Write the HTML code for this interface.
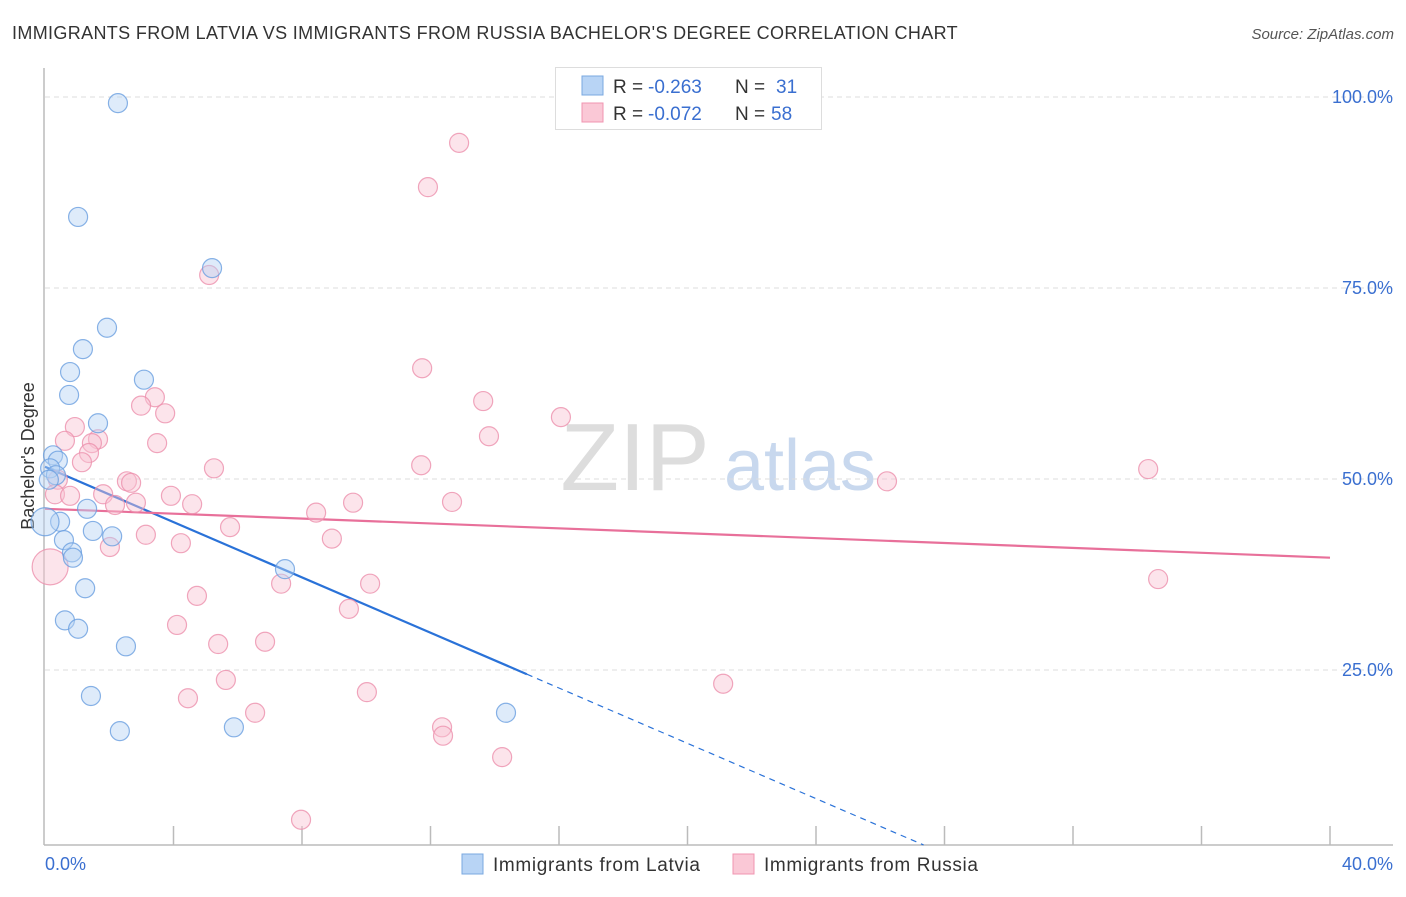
<!DOCTYPE html>
<html><head><meta charset="utf-8"><style>
body{margin:0;background:#fff;font-family:"Liberation Sans",sans-serif;}
svg text{font-family:"Liberation Sans",sans-serif;}
</style></head><body>
<svg id="chart" width="1406" height="892">
<text x="12" y="39" font-size="18" fill="#333" letter-spacing="0.35">IMMIGRANTS FROM LATVIA VS IMMIGRANTS FROM RUSSIA BACHELOR'S DEGREE CORRELATION CHART</text>
<text x="1394" y="39" font-size="15" fill="#555" font-style="italic" text-anchor="end">Source: ZipAtlas.com</text>
<text x="0" y="0" transform="translate(34,456) rotate(-90)" font-size="18" fill="#333" text-anchor="middle">Bachelor's Degree</text>
<g><text x="635" y="490" font-size="96" fill="#ddd" font-family="Liberation Serif" text-anchor="middle">ZIP</text><text x="800" y="490" font-size="72" fill="#c8d8ee" text-anchor="middle">atlas</text></g>
<g id="grid"></g><g id="axes"></g><g id="lines"></g><g id="pts"></g>
<g>
<rect x="555.5" y="67.5" width="266" height="62" fill="#fff" stroke="#ddd"/>
<rect x="582" y="76" width="21" height="19" fill="#b8d4f5" stroke="#7aa8e0"/>
<rect x="582" y="103" width="21" height="19" fill="#fac8d6" stroke="#f095b0"/>
<text y="93" font-size="19" fill="#333"><tspan x="613">R =</tspan><tspan x="648" fill="#3a6fd0">-0.263</tspan><tspan x="735">N =</tspan><tspan x="776" fill="#3a6fd0">31</tspan></text>
<text y="120" font-size="19" fill="#333"><tspan x="613">R =</tspan><tspan x="648" fill="#3a6fd0">-0.072</tspan><tspan x="735">N =</tspan><tspan x="771" fill="#3a6fd0">58</tspan></text>
</g>
<g>
<rect x="462" y="854" width="21" height="20" fill="#b8d4f5" stroke="#7aa8e0"/>
<text x="493" y="871" font-size="19" fill="#333" textLength="207">Immigrants from Latvia</text>
<rect x="733" y="854" width="21" height="20" fill="#fac8d6" stroke="#f095b0"/>
<text x="764" y="871" font-size="19" fill="#333" textLength="214">Immigrants from Russia</text>
</g>
</svg>
<script>
const yTicks=[100,75,50,25];
const yTickLabels=["100.0%","75.0%","50.0%","25.0%"];
const xTicks=[0,4,8,12,16,20,24,28,32,36,40];
const latviaX=[2.27,1.03,5.20,1.93,1.18,0.78,3.08,0.75,1.65,0.25,0.40,0.16,0.34,0.12,0.47,1.31,0.59,1.49,2.09,0.84,0.87,7.47,1.25,0.62,1.03,2.52,1.43,5.88,14.35,2.33,0];
const latviaY=[99.2,84.3,77.6,69.8,67.0,64.0,63.0,61.0,57.3,53.1,52.4,51.4,50.5,49.9,44.4,46.1,42.0,43.2,42.5,40.4,39.7,38.2,35.7,31.5,30.4,28.1,21.6,17.5,19.4,17.0,44.4];
const russiaX=[12.89,11.92,5.11,11.74,13.64,16.06,3.42,2.99,3.74,0.93,0.62,1.65,1.46,3.49,1.37,1.15,13.82,34.34,11.71,5.26,26.21,2.55,2.68,0.40,0.31,0.78,1.81,3.92,2.18,2.83,4.58,9.59,12.67,8.44,5.76,3.14,4.23,8.93,2.02,10.12,7.35,34.65,4.73,9.46,4.11,5.39,6.85,5.63,21.11,4.45,10.02,6.54,12.36,12.39,14.23,7.97,0.16];
const russiaY=[94.0,88.2,76.7,64.5,60.2,58.1,60.7,59.6,58.6,56.8,55.0,55.2,54.7,54.7,53.4,52.2,55.6,51.3,51.8,51.4,49.7,49.7,49.5,49.9,48.0,47.8,48.0,47.8,46.6,46.9,46.7,46.9,47.0,45.6,43.7,42.7,41.6,42.2,41.1,36.3,36.3,36.9,34.7,33.0,30.9,28.4,28.7,23.7,23.2,21.3,22.1,19.4,17.5,16.4,13.6,5.4,38.5];
const latviaTrend=[51.6,-1.81];
const russiaTrend=[46.1,-0.16];
const NS="http://www.w3.org/2000/svg";
const sx=v=>45+v*1285/40, sy=v=>861-v*191/25;
function mk(tag,attrs,parent){const e=document.createElementNS(NS,tag);for(const k in attrs)e.setAttribute(k,attrs[k]);document.getElementById(parent).appendChild(e);return e;}
yTicks.forEach((t,i)=>{
 const l=mk('line',{x1:45,x2:1393,y1:sy(t),y2:sy(t),stroke:'#ddd','stroke-dasharray':'5,4'},'grid');
 
 
 const tx=mk('text',{x:1393,y:sy(t)+6,'font-size':18,fill:'#3a6fd0','text-anchor':'end'},'grid');tx.textContent=yTickLabels[i];
 
 
});
const ax=mk('line',{x1:44,x2:44,y1:68,y2:845,stroke:'#bbb','stroke-width':1.5},'axes');


const bx=mk('line',{x1:44,x2:1393,y1:845,y2:845,stroke:'#bbb','stroke-width':1.5},'axes');


xTicks.slice(1).forEach(t=>{const l=mk('line',{x1:sx(t),x2:sx(t),y1:826,y2:845,stroke:'#bbb','stroke-width':1.5},'axes');
 
 });
const x0=mk('text',{x:45,y:870,'font-size':18,fill:'#3a6fd0'},'axes');x0.textContent=xTicks[0].toFixed(1)+'%';


const x1=mk('text',{x:1393,y:870,'font-size':18,fill:'#3a6fd0','text-anchor':'end'},'axes');x1.textContent=xTicks[xTicks.length-1].toFixed(1)+'%';


function pts(X,Y,fill,stroke,name,bigR){X.forEach((x,i)=>{const big=(i===X.length-1);
 const c=mk('circle',{cx:sx(x),cy:sy(Y[i]),r:big?bigR:9.5,fill:fill,'fill-opacity':0.45,stroke:stroke,'stroke-opacity':0.8,'stroke-width':1.2},'pts');
 
 });}
pts(russiaX,russiaY,'#f9c3d3','#ec90ac','russia-point',18);
pts(latviaX,latviaY,'#b6d2f4','#6a9fe0','latvia-point',14);
const lt=mk('line',{x1:sx(0),y1:sy(latviaTrend[0]),x2:sx(15),y2:sy(latviaTrend[0]+latviaTrend[1]*15),stroke:'#2a72d8','stroke-width':2.2},'lines');


const xe=(latviaTrend[0]-2.1)/-latviaTrend[1];
const ld=mk('line',{x1:sx(15),y1:sy(latviaTrend[0]+latviaTrend[1]*15),x2:sx(xe),y2:sy(2.1),stroke:'#2a72d8','stroke-width':1.2,'stroke-dasharray':'6,5'},'lines');


const rt=mk('line',{x1:sx(0),y1:sy(russiaTrend[0]),x2:sx(40),y2:sy(russiaTrend[0]+russiaTrend[1]*40),stroke:'#e8709a','stroke-width':2.2},'lines');


</script>
</body></html>
